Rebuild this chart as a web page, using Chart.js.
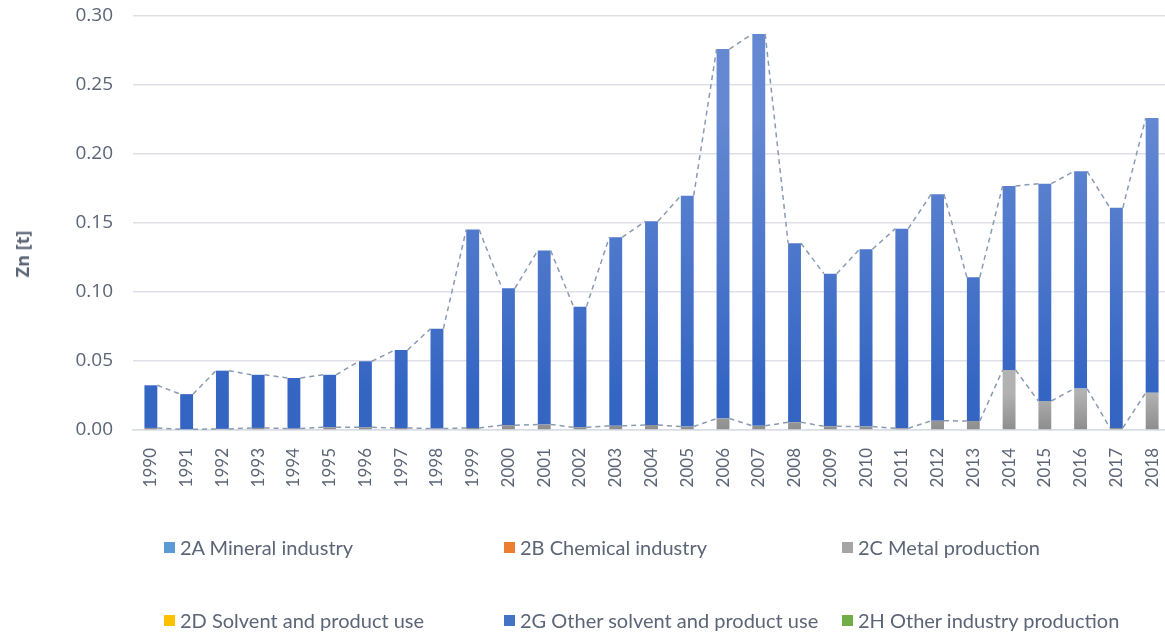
<!DOCTYPE html>
<html>
<head>
<meta charset="utf-8">
<script src="https://cdn.jsdelivr.net/npm/chart.js@4.4.1/dist/chart.umd.min.js"></script>
<style>
  html, body { margin: 0; padding: 0; background: #ffffff; overflow: hidden; }
  #wrap { position: relative; width: 1165px; height: 633px; overflow: hidden; }
  #cv { position: absolute; left: 0; top: 0; }
  .lg { position: absolute; font-family: Lato, "Open Sans", sans-serif; font-size: 20px; color: #5b6577; white-space: nowrap; line-height: 24px; }
  .lg i { position: absolute; left: 0; top: 7px; width: 11px; height: 11px; }
  .lg span { position: absolute; left: 16px; top: 0; }
  #ytitle { position: absolute; left: 22px; top: 254px; transform: translate(-50%, -50%) rotate(-90deg); font-family: "Open Sans", sans-serif; font-weight: bold; font-size: 18px; color: #5b6577; white-space: nowrap; }
</style>
</head>
<body>
<div id="wrap">
  <canvas id="cv" width="1172" height="633" style="width:1172px;height:633px"></canvas>
  <div id="ytitle">Zn [t]</div>
</div>
<script>
const years = ["1990","1991","1992","1993","1994","1995","1996","1997","1998","1999","2000","2001","2002","2003","2004","2005","2006","2007","2008","2009","2010","2011","2012","2013","2014","2015","2016","2017","2018"];
const seriesNames = ["2A Mineral industry","2B Chemical industry","2C Metal production","2D Solvent and product use","2G Other solvent and product use","2H Other industry production"];
const total = [0.0324,0.026,0.043,0.040,0.0377,0.040,0.0498,0.058,0.0734,0.1452,0.1027,0.130,0.0894,0.1396,0.1512,0.1698,0.276,0.287,0.1353,0.1133,0.131,0.1459,0.1708,0.1106,0.1768,0.1785,0.1875,0.161,0.226];
const s2A = [0,0,0,0,0,0,0,0,0,0,0,0,0,0,0,0,0,0,0,0,0,0,0,0,0,0,0,0,0];
const s2B = [0,0,0,0,0,0,0,0,0,0,0,0,0,0,0,0,0,0,0,0,0,0,0,0,0,0,0,0,0];
const s2C = [0.0015,0.0005,0.0008,0.0015,0.001,0.002,0.002,0.0015,0.001,0.0015,0.0035,0.004,0.002,0.003,0.0036,0.0025,0.0083,0.003,0.0056,0.0027,0.0025,0.0012,0.0067,0.0065,0.0435,0.021,0.030,0.0015,0.027];
const s2D = [0,0,0,0,0,0,0,0,0,0,0,0,0,0,0,0,0,0,0,0,0,0,0,0,0,0,0,0,0];
const s2G = total.map((t, i) => +(t - s2C[i]).toFixed(4));
const s2H = [0,0,0,0,0,0,0,0,0,0,0,0,0,0,0,0,0,0,0,0,0,0,0,0,0,0,0,0,0];
const yTicks = [0, 0.05, 0.10, 0.15, 0.20, 0.25, 0.30];

const legendColors = ["#5b9bd5","#ed7d31","#a5a5a5","#ffc000","#4472c4","#70ad47"];
const gradStops = {
  2: ["#b2b2b2", "#8e8e8e"],
  4: ["#6488d2", "#3465c3"]
};
const textColor = "#5b6577";

const gradientPlugin = {
  id: "barGrad",
  beforeDatasetDraw(chart, args) {
    const stops = gradStops[args.index];
    if (!stops) return;
    const ctx = chart.ctx;
    args.meta.data.forEach(el => {
      const top = Math.min(el.y, el.base), bot = Math.max(el.y, el.base);
      if (bot - top < 0.5) return;
      const g = ctx.createLinearGradient(0, top, 0, bot);
      g.addColorStop(0, stops[0]);
      g.addColorStop(1, stops[1]);
      el.options.backgroundColor = g;
    });
  }
};

const seriesLinePlugin = {
  id: "seriesLines",
  afterDatasetsDraw(chart) {
    const ctx = chart.ctx;
    ctx.save();
    ctx.strokeStyle = "#8a9ab3";
    ctx.lineWidth = 1.5;
    ctx.setLineDash([5, 4]);
    [2, 4].forEach(di => {
      const els = chart.getDatasetMeta(di).data;
      ctx.beginPath();
      for (let i = 0; i < els.length - 1; i++) {
        const a = els[i], b = els[i + 1];
        ctx.moveTo(a.x + a.width / 2, a.y);
        ctx.lineTo(b.x - b.width / 2, b.y);
      }
      ctx.stroke();
    });
    ctx.restore();
  }
};

const datasets = [s2A, s2B, s2C, s2D, s2G, s2H].map((d, i) => ({
  label: seriesNames[i],
  data: d,
  backgroundColor: legendColors[i],
  borderWidth: 0,
  stack: "s",
  barPercentage: 0.36,
  categoryPercentage: 1.0
}));

new Chart(document.getElementById("cv"), {
  type: "bar",
  data: { labels: years, datasets },
  plugins: [gradientPlugin, seriesLinePlugin],
  options: {
    responsive: false,
    animation: false,
    layout: { padding: { left: 0, right: 2, top: 16, bottom: 0 } },
    plugins: { legend: { display: false }, tooltip: { enabled: false } },
    scales: {
      x: {
        stacked: true,
        grid: { display: false },
        border: { display: true, color: "#d9dde4", width: 1.5 },
        ticks: {
          color: textColor,
          font: { family: "Lato, 'Open Sans', sans-serif", size: 17 },
          minRotation: 90, maxRotation: 90,
          padding: 10,
          autoSkip: false
        },
        afterFit(scale) { scale.height = 203; scale.paddingLeft = 0; scale.paddingRight = 0; }
      },
      y: {
        stacked: true,
        min: 0, max: 0.30,
        afterBuildTicks(scale) { scale.ticks = yTicks.map(v => ({ value: v })); },
        grid: { color: "#dde1e7", lineWidth: 1.5, drawTicks: false },
        border: { display: false },
        ticks: {
          color: textColor,
          font: { family: "'Open Sans', sans-serif", size: 19 },
          padding: 20,
          callback: v => Number(v).toFixed(2)
        },
        afterFit(scale) { scale.width = 133; scale.paddingTop = 0; scale.paddingBottom = 0; }
      }
    }
  }
});

// HTML legend built from series names
const wrap = document.getElementById("wrap");
const colLeft = [164, 504, 842];
const rowCenter = [547, 620];
seriesNames.forEach((name, i) => {
  const row = Math.floor(i / 3), col = i % 3;
  const d = document.createElement("div");
  d.className = "lg";
  d.style.left = colLeft[col] + "px";
  d.style.top = (rowCenter[row] - 12) + "px";
  d.innerHTML = '<i style="background:' + legendColors[i] + '"></i><span></span>';
  d.querySelector("span").textContent = name;
  wrap.appendChild(d);
});
</script>
</body>
</html>
